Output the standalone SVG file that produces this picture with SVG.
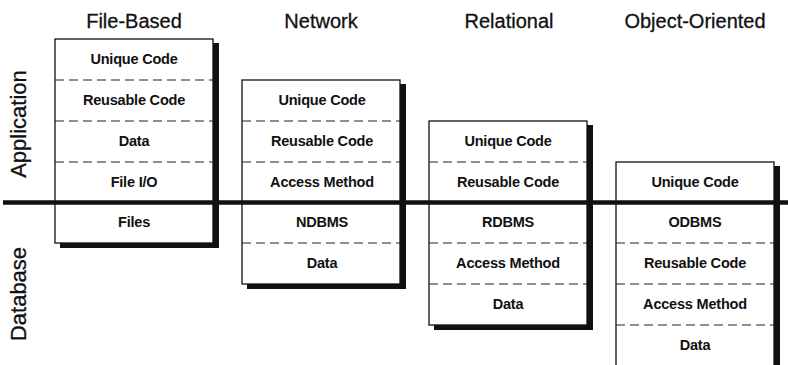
<svg xmlns="http://www.w3.org/2000/svg" width="788" height="365" viewBox="0 0 788 365">
<style>
.title{font-family:"Liberation Sans",Arial,sans-serif;font-size:20px;fill:#111;stroke:#111;stroke-width:0.3;text-anchor:middle}
.side{font-family:"Liberation Sans",Arial,sans-serif;font-size:22px;fill:#111;stroke:#111;stroke-width:0.3;text-anchor:middle}
.cell{font-family:"Liberation Sans",Arial,sans-serif;font-size:14.5px;font-weight:bold;letter-spacing:-0.2px;fill:#111;text-anchor:middle}
.shadow{fill:#111}
.box{fill:#fff;stroke:#111;stroke-width:1.3}
.dash{stroke:#222;stroke-width:1.1;stroke-dasharray:9 5;fill:none}
.divider{stroke:#111;stroke-width:4.5}
</style>
<rect width="788" height="365" fill="#fff"/>
<text class="title" x="134" y="28">File-Based</text>
<text class="title" x="321" y="28">Network</text>
<text class="title" x="509" y="28">Relational</text>
<text class="title" x="695" y="28">Object-Oriented</text>
<text class="side" transform="translate(26,124) rotate(-90)">Application</text>
<text class="side" transform="translate(26,294) rotate(-90)">Database</text>

<g id="file-based">
<rect class="shadow" x="60" y="43" width="159" height="205"/>
<rect class="box" x="55" y="39" width="158" height="204"/>
<line class="dash" x1="55" y1="80" x2="213" y2="80"/>
<line class="dash" x1="55" y1="121" x2="213" y2="121"/>
<line class="dash" x1="55" y1="162" x2="213" y2="162"/>
<text class="cell" x="134" y="64">Unique Code</text>
<text class="cell" x="134" y="105">Reusable Code</text>
<text class="cell" x="134" y="146">Data</text>
<text class="cell" x="134" y="187">File I/O</text>
<text class="cell" x="134" y="227">Files</text>
</g>

<g id="network">
<rect class="shadow" x="247" y="84" width="159" height="205"/>
<rect class="box" x="242" y="80" width="158" height="204"/>
<line class="dash" x1="242" y1="121" x2="400" y2="121"/>
<line class="dash" x1="242" y1="162" x2="400" y2="162"/>
<line class="dash" x1="242" y1="243" x2="400" y2="243"/>
<text class="cell" x="322" y="105">Unique Code</text>
<text class="cell" x="322" y="146">Reusable Code</text>
<text class="cell" x="322" y="187">Access Method</text>
<text class="cell" x="322" y="227">NDBMS</text>
<text class="cell" x="322" y="268">Data</text>
</g>

<g id="relational">
<rect class="shadow" x="434" y="125" width="159" height="205"/>
<rect class="box" x="429" y="121" width="158" height="204"/>
<line class="dash" x1="429" y1="162" x2="587" y2="162"/>
<line class="dash" x1="429" y1="243" x2="587" y2="243"/>
<line class="dash" x1="429" y1="284" x2="587" y2="284"/>
<text class="cell" x="508" y="146">Unique Code</text>
<text class="cell" x="508" y="187">Reusable Code</text>
<text class="cell" x="508" y="227">RDBMS</text>
<text class="cell" x="508" y="268">Access Method</text>
<text class="cell" x="508" y="309">Data</text>
</g>

<g id="object-oriented">
<rect class="shadow" x="621" y="166" width="159" height="205"/>
<rect class="box" x="616" y="162" width="158" height="204"/>
<line class="dash" x1="616" y1="243" x2="774" y2="243"/>
<line class="dash" x1="616" y1="284" x2="774" y2="284"/>
<line class="dash" x1="616" y1="325" x2="774" y2="325"/>
<text class="cell" x="695" y="187">Unique Code</text>
<text class="cell" x="695" y="227">ODBMS</text>
<text class="cell" x="695" y="268">Reusable Code</text>
<text class="cell" x="695" y="309">Access Method</text>
<text class="cell" x="695" y="350">Data</text>
</g>

<g id="connectors">
<line class="divider" x1="3" y1="202.5" x2="788" y2="202.5"/>
</g>
</svg>
